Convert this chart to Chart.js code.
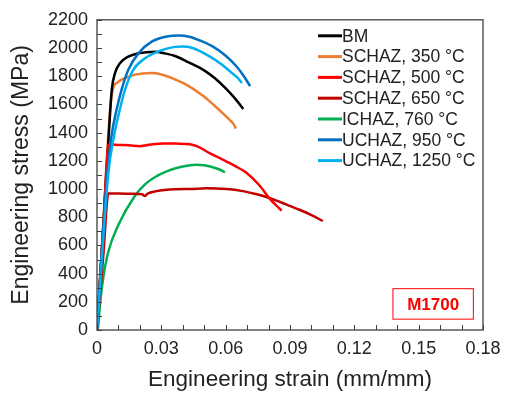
<!DOCTYPE html>
<html>
<head>
<meta charset="utf-8">
<script src="https://cdn.jsdelivr.net/npm/chart.js@4.4.1/dist/chart.umd.min.js"></script>
<style>
html,body{margin:0;padding:0;background:#fff;}
#wrap{width:514px;height:397px;position:relative;}
</style>
</head>
<body>
<div id="wrap"><canvas id="c" width="514" height="397"></canvas></div>
<script>
// ---- data (strain in mm/mm, stress in MPa) ----
const seriesNames = ["BM","SCHAZ, 350 °C","SCHAZ, 500 °C","SCHAZ, 650 °C","ICHAZ, 760 °C","UCHAZ, 950 °C","UCHAZ, 1250 °C"];
const seriesColors = ["#000000","#ED7D31","#FF0000","#C00000","#00B050","#0070C0","#00B0F0"];

const bmStrain = [0,0.003,0.0062,0.0069,0.0084,0.0107,0.0146,0.0193,0.027,0.0317,0.0364,0.0425,0.0496,0.055,0.0605,0.065,0.0682];
const bmStress = [0,760,1560,1706,1822,1892,1939,1962,1974,1962,1943,1900,1845,1785,1706,1630,1567];

const s350Strain = [0,0.003,0.0061,0.0076,0.0095,0.0115,0.0145,0.0177,0.0255,0.030,0.0348,0.041,0.0496,0.0545,0.0585,0.0618,0.0636,0.0648];
const s350Stress = [0,770,1567,1718,1755,1776,1795,1811,1822,1812,1787,1745,1659,1595,1540,1490,1462,1428];

const s500Strain = [0,0.003,0.0053,0.006,0.010,0.015,0.020,0.025,0.031,0.037,0.0434,0.0465,0.0525,0.0589,0.0645,0.0698,0.0755,0.0807,0.0845,0.0861];
const s500Stress = [0,740,1311,1315,1312,1310,1304,1315,1323,1322,1318,1304,1255,1207,1162,1114,1030,928,870,847];

const s650Strain = [0,0.003,0.0053,0.010,0.016,0.021,0.0224,0.0235,0.0278,0.0364,0.0434,0.0512,0.057,0.062,0.068,0.0745,0.080,0.0854,0.09,0.0947,0.100,0.1053];
const s650Stress = [0,540,968,968,966,962,950,966,985,998,1000,1005,1002,998,985,963,938,908,880,851,815,773];

const ic760Strain = [0,0.0006,0.0014,0.0029,0.0053,0.0099,0.0177,0.0225,0.0278,0.0325,0.0371,0.042,0.0465,0.050,0.0527,0.0565,0.0597];
const ic760Stress = [0,30,186,371,557,743,952,1035,1091,1125,1149,1165,1172,1168,1160,1142,1119];

const uc950Strain = [0,0.0045,0.0068,0.0092,0.0115,0.0146,0.0193,0.0255,0.0333,0.038,0.043,0.0485,0.0543,0.060,0.0651,0.0685,0.0714];
const uc950Stress = [0,1060,1380,1567,1706,1845,1962,2045,2084,2088,2080,2050,2008,1945,1869,1800,1730];

const uc1250Strain = [0,0.0053,0.008,0.0107,0.0131,0.0169,0.0224,0.0302,0.0364,0.040,0.0445,0.0527,0.058,0.062,0.0655,0.0675];
const uc1250Stress = [0,1114,1380,1567,1706,1845,1927,1985,2008,2010,2000,1939,1885,1834,1790,1752];

const xTickMax = 0.18, xTickStep = 0.03, xMinorStep = 0.01;
const yTickMax = 2200, yTickStep = 200, yMinorStep = 100;
const labelText = "M1700";

const strains = [bmStrain,s350Strain,s500Strain,s650Strain,ic760Strain,uc950Strain,uc1250Strain];
const stresses = [bmStress,s350Stress,s500Stress,s650Stress,ic760Stress,uc950Stress,uc1250Stress];

const datasets = seriesNames.map((n,i)=>({
  label:n,
  data: strains[i].map((x,k)=>({x:x,y:stresses[i][k]})),
  borderColor: seriesColors[i],
  backgroundColor: seriesColors[i],
  borderWidth: 2.5,
  pointRadius: 0,
  cubicInterpolationMode: 'monotone',
  fill:false,
  order: [3,4,2,5,6,1,0][i]
}));

const FONT = "'Liberation Sans', Arial, sans-serif";
const TXT = "#222222";

const decor = {
  id:'decor',
  afterDatasetsDraw(chart){
    const ctx = chart.ctx, a = chart.chartArea;
    const xs = chart.scales.x, ys = chart.scales.y;
    ctx.save();
    // frame
    ctx.strokeStyle = "#404040";
    ctx.lineWidth = 1.3;
    ctx.strokeRect(a.left, a.top, a.right-a.left, a.bottom-a.top);
    // inward ticks
    ctx.lineWidth = 1;
    ctx.beginPath();
    for(let v=0; v<=xTickMax+1e-9; v+=xMinorStep){
      const px = Math.round(xs.getPixelForValue(v))+0.5;
      ctx.moveTo(px,a.bottom); ctx.lineTo(px,a.bottom-5);
    }
    for(let v=0; v<=yTickMax+1e-9; v+=yMinorStep){
      const py = Math.round(ys.getPixelForValue(v))+0.5;
      ctx.moveTo(a.left,py); ctx.lineTo(a.left+5,py);
    }
    ctx.stroke();
    // legend
    const lx0 = a.left+221, lx1 = a.left+245, ly0 = a.top+16, dy = 20.8;
    ctx.font = "17.5px " + FONT;
    ctx.textBaseline = "middle";
    ctx.textAlign = "left";
    seriesNames.forEach((n,i)=>{
      const y = ly0 + i*dy;
      ctx.strokeStyle = seriesColors[i];
      ctx.lineWidth = 3;
      ctx.beginPath(); ctx.moveTo(lx0,y); ctx.lineTo(lx1,y); ctx.stroke();
      ctx.fillStyle = TXT;
      ctx.fillText(n, lx1, y+1);
    });
    // M1700 box
    const bx0 = xs.getPixelForValue(0.138), bx1 = xs.getPixelForValue(0.1755);
    const by0 = ys.getPixelForValue(293), by1 = ys.getPixelForValue(77);
    ctx.strokeStyle = "#FF0000";
    ctx.lineWidth = 1;
    ctx.strokeRect(bx0, by0, bx1-bx0, by1-by0);
    ctx.fillStyle = "#FF0000";
    ctx.font = "bold 17px " + FONT;
    ctx.textAlign = "center";
    ctx.fillText(labelText, (bx0+bx1)/2, (by0+by1)/2+1);
    ctx.restore();
  }
};

new Chart(document.getElementById('c'), {
  type:'line',
  data:{datasets},
  options:{
    responsive:false,
    animation:false,
    layout:{padding:{left:0,right:31,top:14,bottom:0}},
    plugins:{legend:{display:false},tooltip:{enabled:false}},
    scales:{
      x:{
        type:'linear', min:0, max:xTickMax,
        afterFit(s){ s.height = 67; },
        grid:{display:false, drawTicks:false},
        border:{display:false},
        ticks:{stepSize:xTickStep, padding:8, color:TXT, font:{family:FONT,size:18},
          maxRotation:0,
          callback:(v)=>String(Number(Number(v).toFixed(2)))},
        title:{display:true, text:"Engineering strain (mm/mm)", color:TXT,
          font:{family:FONT,size:22.5}, padding:{top:0,bottom:4}}
      },
      y:{
        type:'linear', min:0, max:yTickMax,
        afterFit(s){ s.width = 97; },
        grid:{display:false, drawTicks:false},
        border:{display:false},
        ticks:{stepSize:yTickStep, padding:9, color:TXT, font:{family:FONT,size:18},
          callback:(v)=>String(v)},
        title:{display:true, text:"Engineering stress (MPa)", color:TXT,
          font:{family:FONT,size:23}, padding:{top:8,bottom:0}}
      }
    }
  },
  plugins:[decor]
});
</script>
</body>
</html>
